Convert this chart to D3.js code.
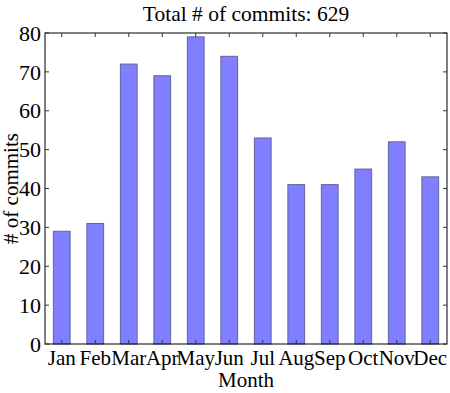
<!DOCTYPE html>
<html>
<head>
<meta charset="UTF-8">
<title>Commits</title>
<script src="https://cdn.jsdelivr.net/npm/d3@7/dist/d3.min.js"></script>
<style>
  body { margin: 0; background: #fff; }
  text { font-family: "Liberation Serif", "DejaVu Serif", serif; fill: #000; }
</style>
</head>
<body>
<svg id="chart" width="450" height="393"></svg>
<script>
var months = ["Jan","Feb","Mar","Apr","May","Jun","Jul","Aug","Sep","Oct","Nov","Dec"];
var commits = [29, 31, 72, 69, 79, 74, 53, 41, 41, 45, 52, 43];
var yTicks = [0, 10, 20, 30, 40, 50, 60, 70, 80];

var svg = d3.select("#chart");
var margin = {left: 45, top: 33, right: 3, bottom: 49};
var w = 450 - margin.left - margin.right;
var h = 393 - margin.top - margin.bottom;
var g = svg.append("g").attr("transform", "translate(" + margin.left + "," + margin.top + ")");

var x = d3.scaleBand().domain(months).range([0, w]).paddingInner(0.5).paddingOuter(0.25);
var y = d3.scaleLinear().domain([0, 80]).range([h, 0]);

// bars
g.selectAll(".bar").data(commits).enter().append("rect")
  .attr("class", "bar")
  .attr("x", function (d, i) { return x(months[i]); })
  .attr("y", function (d) { return y(d); })
  .attr("width", x.bandwidth())
  .attr("height", function (d) { return h - y(d); })
  .attr("fill", "#7f7fff")
  .attr("stroke", "#64649c")
  .attr("stroke-width", 1);

// frame
g.append("rect").attr("width", w).attr("height", h)
  .attr("fill", "none").attr("stroke", "#000").attr("stroke-width", 1);

// inward ticks
var tickLen = 4;
var tickColor = "#333";
months.forEach(function (m) {
  var cx = x(m) + x.bandwidth() / 2;
  g.append("line").attr("x1", cx).attr("x2", cx).attr("y1", h).attr("y2", h - tickLen).attr("stroke", tickColor);
  g.append("line").attr("x1", cx).attr("x2", cx).attr("y1", 0).attr("y2", tickLen).attr("stroke", tickColor);
});
yTicks.forEach(function (t) {
  g.append("line").attr("x1", 0).attr("x2", tickLen).attr("y1", y(t)).attr("y2", y(t)).attr("stroke", tickColor);
  g.append("line").attr("x1", w).attr("x2", w - tickLen).attr("y1", y(t)).attr("y2", y(t)).attr("stroke", tickColor);
});

// tick labels
g.selectAll(".xl").data(months).enter().append("text")
  .attr("x", function (d) { return x(d) + x.bandwidth() / 2; })
  .attr("y", h + 21)
  .attr("text-anchor", "middle")
  .style("font-size", "21px")
  .text(function (d) { return d; });

g.selectAll(".yl").data(yTicks).enter().append("text")
  .attr("x", -4)
  .attr("y", function (d) { return y(d); })
  .attr("dy", "0.35em")
  .attr("text-anchor", "end")
  .style("font-size", "22px")
  .text(function (d) { return d; });

// titles
svg.append("text").attr("x", margin.left + w / 2).attr("y", 21)
  .attr("text-anchor", "middle").style("font-size", "21.5px")
  .text("Total # of commits: 629");
svg.append("text").attr("x", margin.left + w / 2).attr("y", 387)
  .attr("text-anchor", "middle").style("font-size", "21px")
  .text("Month");
svg.append("text")
  .attr("transform", "translate(18," + (margin.top + h / 2) + ") rotate(-90)")
  .attr("text-anchor", "middle").style("font-size", "21px")
  .text("# of commits");
</script>
</body>
</html>
